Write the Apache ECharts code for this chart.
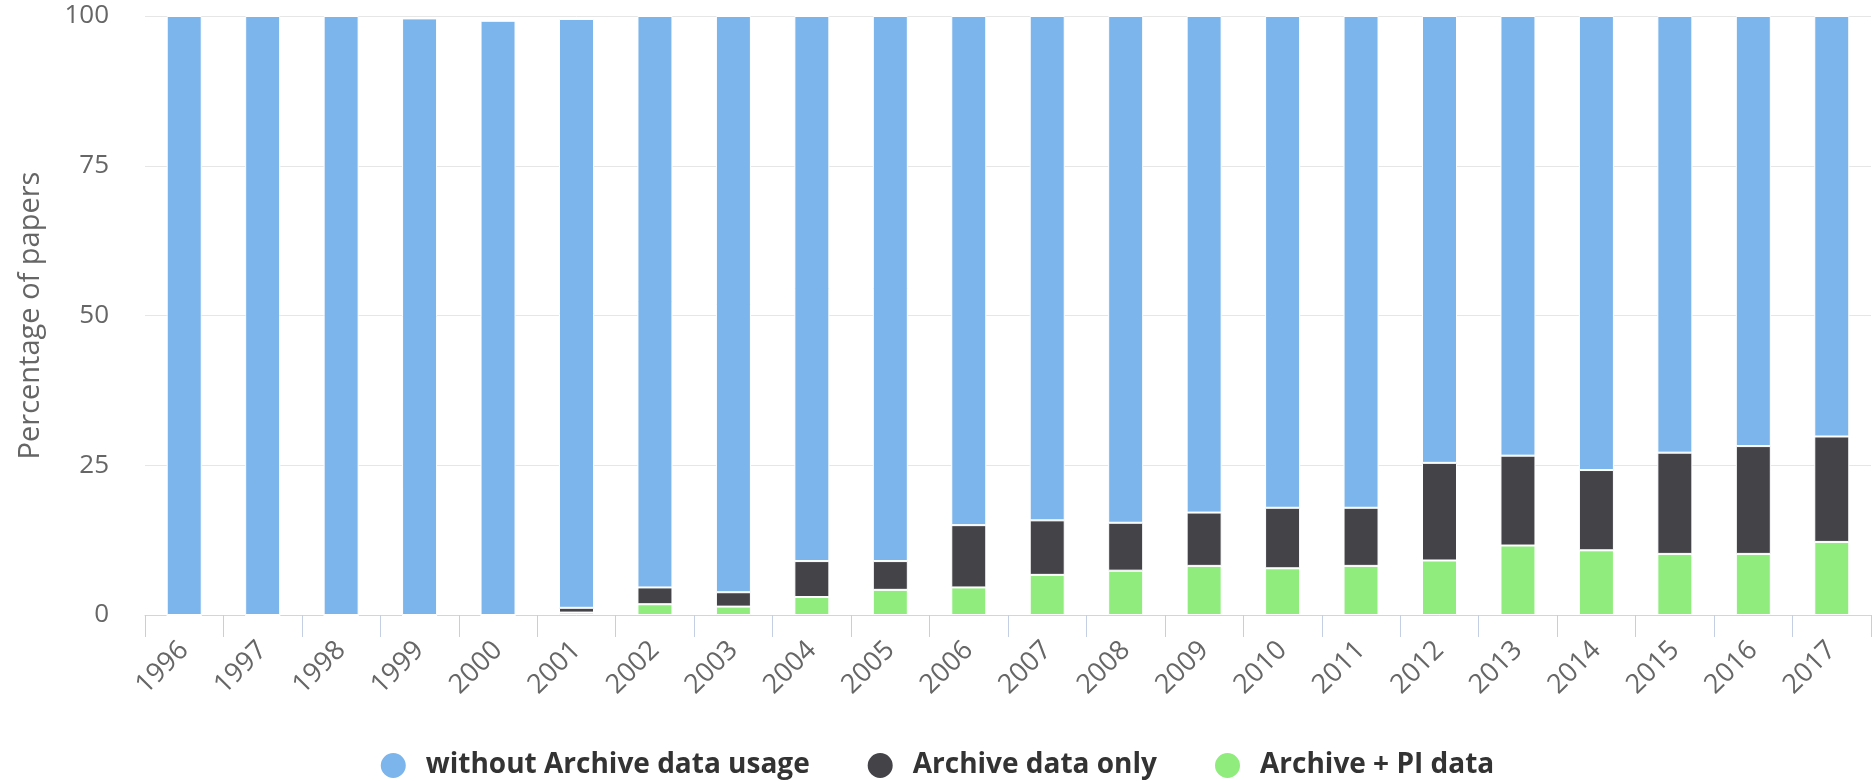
<!DOCTYPE html>
<html>
<head>
<meta charset="utf-8">
<script src="https://cdn.jsdelivr.net/npm/echarts@6/dist/echarts.min.js"></script>
<style>
    html, body { margin: 0; padding: 0; background: #fff; }
    #chart { width: 1873px; height: 781px; }
</style>
</head>
<body>
<div id="chart"></div>
<script>
var years = ['1996','1997','1998','1999','2000','2001','2002','2003','2004','2005','2006',
             '2007','2008','2009','2010','2011','2012','2013','2014','2015','2016','2017'];

// percentage of papers per year
var withoutArchive = [100, 100, 100, 99.6, 99.2, 98.3, 95.4, 96.2, 91.0, 91.0, 85.0,
                      84.2, 84.6, 82.9, 82.1, 82.1, 74.6, 73.4, 75.8, 72.9, 71.8, 70.2];
var archiveOnly    = [0, 0, 0, 0, 0, 0.8, 2.8, 2.4, 6.0, 4.8, 10.4,
                      9.1, 8.0, 8.9, 10.1, 9.7, 16.3, 15.0, 13.4, 16.9, 18.0, 17.6];
var archivePI      = [0, 0, 0, 0, 0, 0.4, 1.8, 1.4, 3.0, 4.2, 4.6,
                      6.7, 7.4, 8.2, 7.8, 8.2, 9.1, 11.6, 10.8, 10.2, 10.2, 12.2];

var yTicks = [0, 25, 50, 75, 100];

var font = 'Open Sans';

var barStyle = function (color) {
    return { color: color, borderColor: '#ffffff', borderWidth: 1 };
};

var option = {
    animation: false,
    grid: {
        left: 145,
        right: 2,
        top: 16,
        bottom: 166,
        containLabel: false
    },
    legend: {
        top: 746,
        left: 'center',
        icon: 'circle',
        itemWidth: 27,
        itemHeight: 27,
        itemGap: 56,
        textStyle: {
            fontFamily: font,
            fontSize: 28,
            fontWeight: 'bold',
            color: '#333333',
            padding: [0, 0, 0, 14]
        },
        data: ['without Archive data usage', 'Archive data only', 'Archive + PI data']
    },
    xAxis: {
        type: 'category',
        data: years,
        boundaryGap: true,
        axisLine: { show: true, lineStyle: { color: '#ccd6eb', width: 1 } },
        axisTick: { show: true, alignWithLabel: false, interval: 0, length: 22, lineStyle: { color: '#c4cfe4', width: 1 } },
        axisLabel: {
            rotate: 45,
            margin: 31,
            interval: 0,
            fontFamily: font,
            fontSize: 27,
            color: '#666666'
        }
    },
    yAxis: {
        type: 'value',
        min: yTicks[0],
        max: yTicks[yTicks.length - 1],
        interval: 25,
        name: 'Percentage of papers',
        nameLocation: 'middle',
        nameRotate: 90,
        nameGap: 100,
        nameTextStyle: {
            fontFamily: font,
            fontSize: 29,
            color: '#666666'
        },
        axisLine: { show: false },
        axisTick: { show: false },
        axisLabel: {
            margin: 36,
            fontFamily: font,
            fontSize: 26,
            color: '#666666'
        },
        splitLine: { lineStyle: { color: '#e6e6e6', width: 1 } }
    },
    // stacked bottom-up: green, dark, blue
    series: [
        {
            name: 'Archive + PI data',
            type: 'bar',
            stack: 'total',
            barWidth: 35,
            itemStyle: barStyle('#90ed7d'),
            data: archivePI
        },
        {
            name: 'Archive data only',
            type: 'bar',
            stack: 'total',
            barWidth: 35,
            itemStyle: barStyle('#434348'),
            data: archiveOnly
        },
        {
            name: 'without Archive data usage',
            type: 'bar',
            stack: 'total',
            barWidth: 35,
            itemStyle: barStyle('#7cb5ec'),
            data: withoutArchive
        }
    ]
};

var chart = echarts.init(document.getElementById('chart'));
chart.setOption(option);
</script>
</body>
</html>
